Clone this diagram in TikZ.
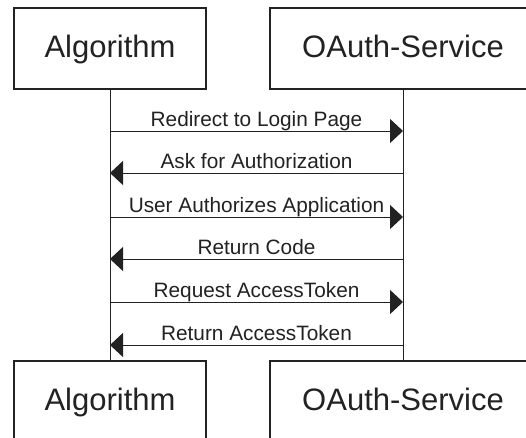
\documentclass[tikz,border=0pt]{standalone}
\usepackage{fontspec}
\setmainfont{Liberation Sans}
\usetikzlibrary{arrows.meta}
\definecolor{ink}{HTML}{222222}
\tikzset{
  actor/.style={draw=ink, line width=1.2pt, rectangle, minimum height=81pt,
    inner sep=0pt, text height=23pt, text depth=4.5pt,
    font=\fontsize{31}{36}\selectfont, text=ink},
  lifeline/.style={draw=ink, line width=1pt},
  msg/.style={draw=ink, line width=1pt, -{Triangle[length=13pt,width=24pt]}},
  lbl/.style={midway, anchor=base, yshift=5pt, inner sep=0pt,
    font=\fontsize{20.8}{24}\selectfont, text=ink}
}
\begin{document}
\begin{tikzpicture}[x=1pt, y=-1pt]
\useasboundingbox (0,0) rectangle (526,437);
\clip (0,0) rectangle (526,437);
\fill[white] (0,0) rectangle (526,437);

% participants, head and foot
\node[actor, minimum width=192pt] (algTop) at (110,48.5) {Algorithm};
\node[actor, minimum width=266pt] (svcTop) at (403,48.5) {OAuth-Service};
\node[actor, minimum width=192pt] (algBot) at (110,401.5) {Algorithm};
\node[actor, minimum width=266pt] (svcBot) at (403,401.5) {OAuth-Service};

% lifelines
\draw[lifeline] (algTop.south) -- (algBot.north);
\draw[lifeline] (svcTop.south) -- (svcBot.north);

% message endpoints on the lifelines
\foreach \n/\y in {1/131, 2/173, 3/217, 4/259, 5/302, 6/345} {
  \coordinate (a\n) at (algTop.south |- 0,\y);
  \coordinate (s\n) at (svcTop.south |- 0,\y);
}

% messages
\draw[msg] (a1) -- node[lbl] {Redirect to Login Page} (s1);
\draw[msg] (s2) -- node[lbl] {Ask for Authorization} (a2);
\draw[msg] (a3) -- node[lbl] {User Authorizes Application} (s3);
\draw[msg] (s4) -- node[lbl] {Return Code} (a4);
\draw[msg] (a5) -- node[lbl] {Request AccessToken} (s5);
\draw[msg] (s6) -- node[lbl] {Return AccessToken} (a6);
\end{tikzpicture}
\end{document}
